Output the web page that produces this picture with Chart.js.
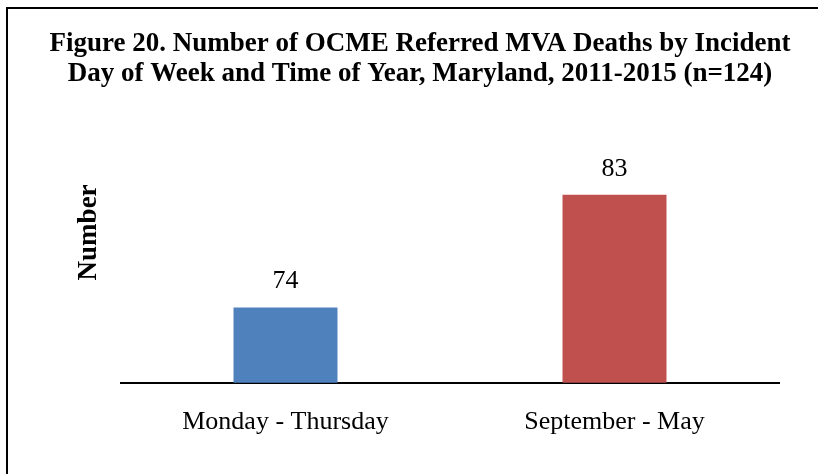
<!DOCTYPE html>
<html>
<head>
<meta charset="utf-8">
<script src="https://cdn.jsdelivr.net/npm/chart.js@4.4.1/dist/chart.umd.min.js"></script>
<style>
  html, body { margin: 0; padding: 0; background: #fff; }
  #wrap { position: relative; width: 818px; height: 474px; overflow: hidden; }
  #frame { position: absolute; left: 6px; top: 7px; width: 900px; height: 600px; border-top: 2px solid #000; border-left: 2px solid #000; }
  canvas { position: absolute; left: 0; top: 0; }
</style>
</head>
<body>
<div id="wrap">
  <div id="frame"></div>
  <canvas id="chart" width="818" height="474"></canvas>
</div>
<script>
// ── data ──
const categories = ['Monday - Thursday', 'September - May'];
const deaths = [74, 83];
const barColors = ['#4F81BD', '#C0504D'];
const titleLines = [
  'Figure 20. Number of OCME Referred MVA Deaths by Incident',
  'Day of Week and Time of Year, Maryland, 2011-2015 (n=124)'
];
const yMin = 68, yMax = 92;

const SERIF = "'Liberation Serif', 'Times New Roman', serif";

// value labels above bars
const valueLabels = {
  id: 'valueLabels',
  afterDatasetsDraw(chart) {
    const ctx = chart.ctx;
    const meta = chart.getDatasetMeta(0);
    ctx.save();
    ctx.font = '26px ' + SERIF;
    ctx.fillStyle = '#000';
    ctx.textAlign = 'center';
    ctx.textBaseline = 'middle';
    meta.data.forEach((bar, i) => {
      ctx.fillText(String(chart.data.datasets[0].data[i]), bar.x, bar.y - 26);
    });
    ctx.restore();
  }
};

// two-line title, centred on the page (built-in title squeezes to the padded box)
const pageTitle = {
  id: 'pageTitle',
  afterDraw(chart) {
    const ctx = chart.ctx;
    ctx.save();
    ctx.font = 'bold 27px ' + SERIF;
    ctx.fillStyle = '#000';
    ctx.textAlign = 'center';
    ctx.textBaseline = 'middle';
    titleLines.forEach((line, i) => ctx.fillText(line, 420, 44 + i * 30));
    ctx.restore();
  }
};

Chart.defaults.font.family = SERIF;
Chart.defaults.color = '#000';

new Chart(document.getElementById('chart').getContext('2d'), {
  type: 'bar',
  data: {
    labels: categories,
    datasets: [{
      data: deaths,
      backgroundColor: barColors,
      borderWidth: 0,
      categoryPercentage: 1,
      barPercentage: 0.316
    }]
  },
  options: {
    responsive: false,
    animation: false,
    layout: { padding: { left: 76, right: 39, top: 82, bottom: 20 } },
    plugins: {
      legend: { display: false },
      tooltip: { enabled: false },
      title: { display: false }
    },
    scales: {
      x: {
        grid: { display: false },
        border: { display: true, color: '#000', width: 2 },
        ticks: { font: { family: SERIF, size: 26 }, color: '#000', padding: 16 }
      },
      y: {
        min: yMin,
        max: yMax,
        grid: { display: false },
        border: { display: false },
        ticks: { display: false },
        title: {
          display: true,
          text: 'Number',
          color: '#000',
          font: { family: SERIF, size: 27, weight: 'bold', lineHeight: 1.0 },
          padding: { top: 0, bottom: 10 }
        }
      }
    }
  },
  plugins: [valueLabels, pageTitle]
});
</script>
</body>
</html>
